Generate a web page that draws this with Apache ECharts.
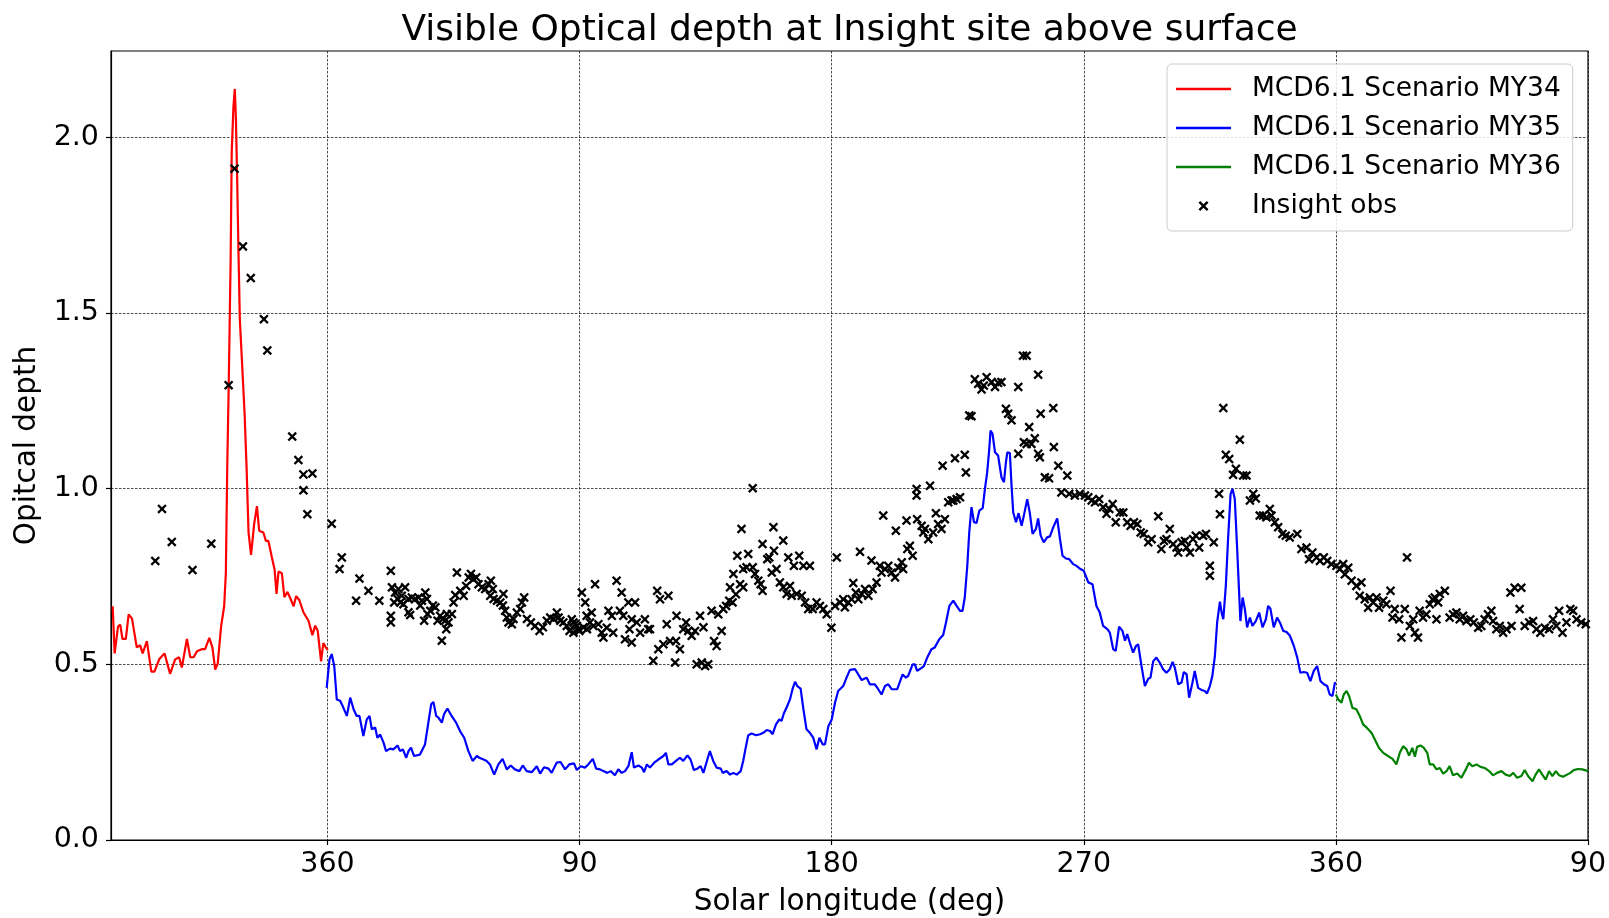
<!DOCTYPE html>
<html>
<head>
<meta charset="utf-8">
<title>Visible Optical depth at Insight site above surface</title>
<script src="https://cdn.jsdelivr.net/npm/echarts@6/dist/echarts.min.js"></script>
<style>
  html, body { margin: 0; padding: 0; background: #fff; }
  #chart { width: 1609px; height: 918px; }
</style>
</head>
<body>
<div id="chart"></div>
<script>
// Solar longitude is cumulative across Mars years (360 = end of MY34, 720 = end of MY35)
const xTicks = [360, 450, 540, 630, 720, 810];
const yTicks = [0, 0.5, 1.0, 1.5, 2.0];

// MCD6.1 scenario MY34 column optical depth [Ls, tau]
const my34 = [
  [283.3,0.665],[284.0,0.531],[285.2,0.607],[286.0,0.613],[286.8,0.572],[288.0,0.572],[289.0,0.642],[290.2,0.630],
  [291.9,0.548],[293.1,0.554],[294.0,0.531],[295.5,0.566],[297.1,0.479],[298.2,0.479],[299.9,0.514],[301.8,0.531],
  [303.8,0.473],[305.6,0.514],[307.0,0.520],[308.0,0.491],[309.8,0.572],[311.0,0.520],[312.2,0.520],[313.4,0.537],
  [315.1,0.543],[316.3,0.543],[317.8,0.575],[318.9,0.548],[319.9,0.485],[320.8,0.502],[322.0,0.607],[323.1,0.665],
  [323.7,0.759],[324.2,1.061],[324.7,1.282],[325.4,1.643],[325.8,1.957],[326.4,2.085],[326.9,2.137],[327.3,2.050],
  [327.7,1.899],[328.2,1.678],[328.7,1.479],[329.6,1.340],[330.4,1.212],[331.1,1.061],[331.8,0.875],[332.7,0.811],
  [333.8,0.899],[334.8,0.950],[335.6,0.880],[337.1,0.875],[338.0,0.851],[338.9,0.851],[340.1,0.805],[341.1,0.770],
  [341.8,0.700],[342.5,0.764],[343.7,0.759],[344.6,0.691],[345.7,0.706],[346.7,0.688],[347.9,0.665],[348.8,0.694],
  [349.9,0.683],[351.4,0.648],[353.2,0.624],[354.6,0.583],[355.6,0.610],[356.5,0.595],[357.7,0.508],[358.5,0.560],
  [359.4,0.548],[360.1,0.540]
];

// MCD6.1 scenario MY35
const my35 = [
  [359.7,0.433],[360.7,0.514],[361.5,0.529],[362.4,0.495],[363.3,0.400],[364.5,0.396],[365.4,0.381],[366.9,0.353],
  [368.1,0.405],[369.3,0.372],[370.4,0.353],[371.4,0.353],[372.8,0.296],[374.0,0.343],[375.0,0.353],[375.8,0.315],
  [377.0,0.320],[377.8,0.291],[378.8,0.300],[380.0,0.277],[380.9,0.253],[382.3,0.260],[383.5,0.258],[385.0,0.269],
  [385.9,0.253],[386.9,0.258],[388.1,0.234],[388.9,0.253],[389.8,0.263],[390.9,0.239],[393.0,0.243],[394.8,0.272],
  [396.0,0.334],[397.0,0.386],[397.8,0.393],[398.8,0.353],[399.6,0.348],[400.8,0.334],[401.6,0.358],[402.8,0.374],
  [404.3,0.353],[405.9,0.334],[407.3,0.310],[408.8,0.291],[410.3,0.253],[411.8,0.225],[413.3,0.239],[414.2,0.234],
  [415.7,0.229],[416.8,0.225],[418.0,0.215],[419.5,0.186],[421.0,0.215],[422.5,0.231],[424.0,0.201],[425.4,0.212],
  [426.9,0.201],[428.5,0.196],[429.7,0.212],[431.1,0.196],[432.9,0.193],[434.7,0.210],[435.9,0.189],[437.3,0.207],
  [438.9,0.203],[440.0,0.191],[441.8,0.220],[443.2,0.222],[444.8,0.201],[446.3,0.215],
  [448.0,0.218],[449.0,0.199],[450.4,0.210],[451.9,0.206],[453.1,0.215],[454.7,0.231],[455.9,0.203],[457.3,0.201],
  [458.5,0.196],[459.9,0.191],[461.1,0.196],[462.6,0.184],[463.8,0.201],[465.0,0.191],[466.2,0.196],[467.4,0.210],
  [468.6,0.250],[469.4,0.206],[471.0,0.212],[472.2,0.206],[473.0,0.193],[474.0,0.215],[475.1,0.206],[476.6,0.220],
  [478.1,0.229],[479.9,0.239],[480.8,0.248],[481.7,0.215],[482.9,0.215],[484.4,0.225],[485.8,0.234],[487.0,0.225],
  [488.5,0.241],[489.6,0.229],[490.8,0.199],[492.0,0.203],[493.2,0.210],[494.2,0.191],[495.6,0.229],[496.5,0.253],
  [497.7,0.225],[498.9,0.206],[500.4,0.203],[501.1,0.191],[502.5,0.196],[503.7,0.186],[504.9,0.191],[506.1,0.186],
  [507.5,0.196],[508.4,0.225],[509.4,0.267],[510.2,0.298],[511.4,0.303],[513.0,0.298],[514.4,0.301],[515.6,0.305],
  [516.8,0.313],[518.0,0.310],[518.9,0.301],[520.1,0.329],[521.3,0.343],[522.1,0.339],[522.9,0.360],[523.9,0.377],
  [525.1,0.400],[526.0,0.429],[526.9,0.450],[527.7,0.438],[528.9,0.431],[529.9,0.372],[531.0,0.315],[532.2,0.305],
  [533.4,0.291],[534.6,0.258],[535.6,0.291],
  [536.8,0.272],[537.6,0.272],[538.8,0.324],[540.0,0.343],[541.2,0.391],[542.3,0.424],[544.1,0.438],[545.3,0.462],
  [546.5,0.484],[548.3,0.486],[549.5,0.471],[550.7,0.455],[552.5,0.462],[553.6,0.443],[555.4,0.443],[556.6,0.429],
  [557.8,0.414],[559.0,0.438],[560.2,0.443],[561.4,0.429],[563.4,0.429],[565.3,0.471],[566.5,0.462],[567.3,0.467],
  [568.9,0.500],[569.7,0.500],[570.5,0.481],[572.1,0.490],[572.9,0.495],[574.1,0.519],[575.6,0.543],[576.8,0.548],
  [578.4,0.571],[579.8,0.583],[580.8,0.619],[582.0,0.666],[583.4,0.681],[584.6,0.666],[585.8,0.652],[586.7,0.652],
  [587.5,0.690],[588.4,0.780],[589.1,0.875],[589.9,0.947],[590.8,0.904],[591.7,0.902],[592.7,0.937],[593.9,0.944],
  [594.7,0.999],[595.5,1.046],[596.2,1.108],[596.7,1.165],[597.4,1.156],[598.3,1.103],[599.4,1.094],[600.6,1.032],
  [601.5,1.018],[602.2,1.075],[602.7,1.103],[603.6,1.101],[604.2,1.008],[604.8,0.932],[605.8,0.904],[606.7,0.930],
  [607.8,0.894],[608.6,0.923],[609.8,0.970],[610.7,0.932],[611.7,0.871],[612.9,0.885],[613.7,0.915],[614.6,0.866],
  [615.7,0.847],[616.9,0.861],[617.9,0.864],[619.1,0.890],[620.5,0.915],[621.5,0.856],[622.4,0.809],[623.6,0.801],
  [624.8,0.799],
  [626.2,0.785],[627.4,0.780],[628.8,0.771],[630.0,0.766],[631.6,0.733],[633.1,0.728],[634.5,0.666],[635.7,0.647],
  [636.9,0.609],[638.4,0.600],[639.3,0.590],[640.5,0.543],[641.4,0.538],[642.6,0.607],[643.8,0.595],[644.7,0.567],
  [645.5,0.586],[646.4,0.562],[647.6,0.533],[648.6,0.552],[649.4,0.557],[650.6,0.495],[651.8,0.438],[653.0,0.459],
  [653.8,0.462],[654.8,0.509],[655.9,0.519],[657.1,0.505],[658.3,0.486],[659.5,0.476],[660.7,0.486],[661.7,0.507],
  [662.5,0.490],[663.7,0.443],[664.9,0.448],[665.7,0.478],[666.7,0.472],[667.6,0.405],[668.8,0.448],[669.6,0.481],
  [670.8,0.433],[672.0,0.427],[673.2,0.424],[674.0,0.417],[675.0,0.438],[675.9,0.467],[676.8,0.524],[677.6,0.619],
  [678.6,0.678],[679.2,0.647],[679.8,0.628],[680.7,0.723],[681.5,0.856],[682.4,0.985],[683.1,0.999],[683.9,0.970],
  [684.7,0.837],[685.5,0.695],[685.9,0.623],[686.7,0.690],[687.5,0.657],[688.3,0.605],[689.3,0.633],[690.2,0.609],
  [691.4,0.623],[692.6,0.647],[693.8,0.605],[695.0,0.628],[695.8,0.666],[696.6,0.659],[697.8,0.605],[699.0,0.633],
  [700.0,0.619],[701.2,0.595],[702.4,0.592],[703.6,0.581],[705.0,0.552],[706.2,0.519],[707.3,0.476],[708.5,0.478],
  [709.7,0.476],[710.9,0.452],[712.1,0.481],[713.3,0.495],[714.5,0.452],[715.7,0.443],[716.9,0.438],[717.8,0.414],
  [718.8,0.410],[719.6,0.446],[720.0,0.448]
];

// MCD6.1 scenario MY36
const my36 = [
  [720.0,0.414],[720.8,0.400],[722.0,0.391],[722.8,0.414],[723.8,0.424],[724.7,0.410],[725.9,0.376],[727.3,0.372],
  [728.5,0.353],[729.7,0.329],[731.1,0.319],[732.7,0.305],[733.9,0.286],[735.4,0.262],[736.9,0.248],[738.6,0.239],
  [740.2,0.231],[741.6,0.215],[742.8,0.248],[744.0,0.267],[745.2,0.258],[746.1,0.240],[747.3,0.262],[748.2,0.237],
  [749.0,0.265],[750.2,0.269],[751.4,0.262],[752.6,0.248],[753.5,0.215],[754.7,0.215],[755.9,0.201],[757.1,0.205],
  [758.3,0.189],[759.5,0.196],[760.6,0.210],[761.8,0.184],[763.3,0.189],[764.8,0.177],[766.4,0.201],[767.5,0.220],
  [768.7,0.210],[770.2,0.215],[771.6,0.208],[773.1,0.205],[774.7,0.196],[776.1,0.184],[777.5,0.191],[779.1,0.196],
  [780.6,0.186],[782.1,0.182],[783.3,0.191],[784.7,0.177],[786.2,0.182],[787.4,0.199],[788.6,0.182],[790.2,0.167],
  [791.3,0.186],[792.5,0.201],[793.7,0.186],[794.9,0.172],[796.1,0.196],[797.3,0.182],[798.5,0.196],[799.7,0.184],
  [801.1,0.180],[802.5,0.186],[803.7,0.191],[804.9,0.199],[806.4,0.202],[808.0,0.201],[810.0,0.196]
];

// InSight camera optical depth retrievals [Ls, tau]
const insightObs = [
  [298.5,0.794],[300.9,0.942],[304.4,0.848],[311.8,0.768],[318.5,0.843],[324.7,1.294],[326.8,1.910],[329.8,1.689],
  [332.6,1.599],[337.3,1.482],[338.5,1.393],[347.4,1.148],[349.6,1.081],[351.4,1.040],[354.6,1.043],[351.4,0.995],
  [352.8,0.927],[361.5,0.900],
  [365.1,0.804],[364.3,0.771],[371.4,0.744],[370.2,0.681],[374.6,0.709],[378.5,0.681],[382.6,0.766],
  [383.0,0.719],[384.1,0.704],[385.3,0.714],[386.5,0.695],[387.7,0.719],[385.0,0.686],[383.8,0.676],[386.0,0.676],
  [387.1,0.671],[388.9,0.686],[390.1,0.690],[391.3,0.686],[392.5,0.690],[393.7,0.681],[394.9,0.704],[395.5,0.686],
  [382.6,0.638],[382.6,0.619],[388.9,0.648],[389.5,0.640],[393.1,0.667],[394.5,0.624],[395.7,0.643],[396.7,0.652],
  [397.6,0.667],[398.5,0.662],[399.3,0.624],[400.2,0.638],[401.2,0.629],[402.0,0.624],[402.6,0.643],[400.8,0.567],
  [402.4,0.600],[403.2,0.619],[404.4,0.643],[405.0,0.676],[405.6,0.697],[406.2,0.761],[407.4,0.709],[408.6,0.695],
  [409.5,0.723],[410.4,0.747],[411.2,0.757],[412.1,0.742],[413.1,0.747],[413.9,0.728],[415.1,0.719],[416.3,0.714],
  [417.5,0.728],[418.3,0.738],[419.0,0.714],[418.1,0.695],[419.3,0.686],[420.5,0.681],[421.7,0.676],[422.8,0.700],
  [422.6,0.667],[423.4,0.652],[424.0,0.633],[424.6,0.619],[425.8,0.614],[426.4,0.629],[427.6,0.647],[428.8,0.657],
  [429.4,0.676],[430.2,0.690],[431.2,0.629],[432.6,0.619],[434.1,0.609],[435.7,0.595],[436.9,0.605],[438.3,0.624],
  [439.5,0.633],[440.7,0.629],[441.9,0.647],[442.5,0.633],[443.1,0.624],[444.2,0.619],[445.4,0.609],[446.4,0.595],
  [447.8,0.619],[449.0,0.609],[449.9,0.595],[451.4,0.605],[452.6,0.600],[450.8,0.704],[452.0,0.676],
  [447.2,0.628],[448.4,0.614],[449.6,0.600],[447.8,0.590],
  [452.5,0.638],[453.7,0.619],[454.3,0.647],[455.5,0.728],[454.9,0.609],[456.7,0.614],[457.9,0.590],[458.5,0.576],
  [459.7,0.604],[460.3,0.652],[461.5,0.638],[462.0,0.590],[463.2,0.738],[464.4,0.652],[465.0,0.704],[465.6,0.638],
  [466.2,0.571],[467.4,0.676],[467.8,0.600],[468.6,0.628],[468.6,0.562],[469.8,0.676],[470.4,0.619],[471.6,0.590],
  [473.3,0.628],[474.5,0.600],[475.1,0.600],
  [476.3,0.510],[477.7,0.709],[478.7,0.685],[478.1,0.543],[479.9,0.557],[481.1,0.614],[481.7,0.695],[482.3,0.566],
  [484.1,0.505],[484.4,0.566],[484.6,0.638],[485.8,0.543],[487.0,0.600],[488.0,0.619],[488.8,0.595],[490.0,0.581],
  [491.2,0.595],[491.8,0.500],[493.0,0.638],[493.6,0.505],[494.2,0.605],[494.8,0.495],[495.9,0.500],[497.1,0.652],
  [498.0,0.566],[498.9,0.552],[499.5,0.642],[500.7,0.595],[501.3,0.657],[502.3,0.666],[503.4,0.681],[503.7,0.719],
  [504.6,0.676],[504.9,0.757],[505.8,0.699],[506.3,0.809],[507.3,0.728],[507.8,0.885],[508.4,0.771],[508.4,0.719],
  [510.2,0.814],[509.6,0.776],[511.8,1.001],[511.8,0.776],[512.6,0.757],[513.8,0.738],[514.6,0.728],[515.3,0.709],
  [515.3,0.842],[517.0,0.799],[517.7,0.804],[518.6,0.761],[519.2,0.890],[519.4,0.823],[520.3,0.771],[521.5,0.733],
  [522.7,0.852],[522.7,0.719],[523.9,0.700],[524.5,0.804],[525.1,0.723],[525.7,0.695],[526.5,0.780],[527.5,0.700],
  [528.4,0.809],[529.3,0.695],[529.9,0.780],[530.5,0.676],[531.6,0.657],[532.2,0.780],[533.2,0.657],[534.6,0.676],
  [535.8,0.666],[537.0,0.657],[538.2,0.642],[539.9,0.604],[541.2,0.666],[541.8,0.804],[543.0,0.676],
  [544.1,0.685],[544.7,0.662],[545.9,0.676],[547.1,0.685],[547.7,0.731],[548.6,0.704],[549.5,0.685],[550.1,0.820],
  [550.7,0.700],[551.9,0.714],[553.1,0.695],[554.2,0.795],[554.6,0.714],[556.0,0.733],[557.2,0.780],[557.8,0.761],
  [558.4,0.923],[559.0,0.771],[560.2,0.780],[561.4,0.761],[562.6,0.747],[562.9,0.880],[563.8,0.775],[565.0,0.790],
  [565.5,0.771],[566.7,0.909],[567.0,0.828],[567.9,0.837],[568.9,0.809],[570.3,0.999],[570.3,0.980],[570.5,0.913],
  [572.1,0.894],[572.7,0.875],[573.3,0.885],[574.5,0.856],[575.1,1.008],[576.2,0.875],[577.2,0.930],[578.0,0.899],
  [579.2,0.885],[579.6,1.065],[580.4,0.913],[581.6,0.961],[582.8,0.966],[583.4,0.966],[584.0,1.086],[584.6,0.970],
  [585.8,0.975],[587.5,1.096],[587.9,1.046],[589.1,1.208],[589.9,1.206],[591.1,1.311],[592.3,1.298],[593.5,1.282],
  [594.3,1.293],[595.3,1.317],[597.1,1.303],[598.3,1.289],[599.4,1.301],[600.6,1.303],[602.2,1.227],[603.0,1.213],
  [604.2,1.194],[606.6,1.289],[606.6,1.099],[608.3,1.378],[609.6,1.378],[608.6,1.132],[609.6,1.127],[610.5,1.175],
  [611.3,1.127],[612.5,1.143],[613.7,1.324],[613.7,1.099],[614.3,1.089],[614.6,1.213],[616.1,1.032],[617.6,1.029],
  [619.1,1.229],[619.3,1.118],[620.9,1.065],[622.0,0.989],[624.1,1.037],[624.8,0.985],
  [626.8,0.980],[628.6,0.985],[630.4,0.980],[631.6,0.975],[632.8,0.966],[634.0,0.961],[635.5,0.970],[636.9,0.947],
  [638.1,0.928],[639.1,0.942],[640.3,0.956],[641.4,0.904],[642.9,0.932],[644.1,0.932],[645.5,0.904],[646.7,0.894],
  [647.9,0.904],[649.1,0.899],[650.3,0.875],[651.4,0.871],[653.0,0.847],[654.2,0.856],[656.6,0.921],[657.7,0.828],
  [658.6,0.851],[659.5,0.856],[660.7,0.885],[661.9,0.842],[663.1,0.832],[663.7,0.818],[664.9,0.847],[666.1,0.851],
  [666.7,0.832],[667.9,0.818],[669.0,0.856],[670.0,0.866],[671.2,0.832],[672.6,0.866],[673.6,0.871],[675.0,0.780],
  [675.0,0.752],[676.4,0.847],[678.3,0.985],[678.6,0.927],[679.8,1.229],[680.7,1.096],[681.9,1.084],[683.3,1.039],
  [684.3,1.056],[685.7,1.139],[686.9,1.037],[688.1,1.037],[689.3,0.966],[690.5,0.985],[691.4,0.972],[692.8,0.923],
  [694.0,0.923],[695.2,0.918],[696.4,0.942],[697.0,0.923],[698.2,0.904],[699.4,0.890],[700.9,0.871],[702.1,0.866],
  [703.5,0.861],[706.2,0.871],[707.7,0.828],[709.5,0.832],[710.4,0.799],[711.6,0.818],[713.1,0.804],[714.3,0.794],
  [715.7,0.804],[716.9,0.794],[718.4,0.785],
  [720.2,0.780],[721.4,0.771],[722.6,0.785],[723.2,0.756],[724.4,0.775],[725.6,0.738],[727.3,0.723],[729.1,0.733],
  [728.5,0.695],[730.3,0.685],[731.5,0.661],[732.1,0.690],[733.3,0.676],[734.5,0.690],[735.4,0.661],[736.9,0.681],
  [738.0,0.671],[739.5,0.709],[740.2,0.633],[741.0,0.657],[742.6,0.628],[743.4,0.576],[744.6,0.657],[745.4,0.804],
  [746.4,0.609],[747.6,0.628],[748.2,0.590],[749.3,0.576],[749.9,0.652],[751.1,0.633],[752.3,0.642],[753.5,0.671],
  [754.5,0.685],[755.3,0.690],[756.5,0.676],[757.1,0.700],[758.9,0.709],[755.9,0.628],[760.6,0.633],[761.8,0.642],
  [763.0,0.647],[764.2,0.628],[765.4,0.638],[766.6,0.623],[768.0,0.628],[769.2,0.619],[770.8,0.604],[771.9,0.609],
  [773.1,0.628],[774.3,0.642],[775.5,0.652],[776.1,0.623],[777.3,0.600],[778.5,0.609],[779.7,0.590],[780.9,0.600],
  [782.7,0.609],[782.3,0.704],[783.8,0.718],[786.2,0.718],[785.6,0.657],[787.4,0.609],[789.0,0.619],[790.4,0.623],
  [791.6,0.600],[793.0,0.590],[794.6,0.604],[796.1,0.600],[797.5,0.628],[798.7,0.609],[799.7,0.652],[800.9,0.590],
  [802.3,0.619],[803.7,0.657],[804.7,0.652],[805.9,0.628],[807.6,0.619],[809.2,0.614]
];

const FONT = 'DejaVu Sans';
// "x" marker drawn as a filled outline
const crossMarker = 'path://M0,1.7L1.7,0L5,3.3L8.3,0L10,1.7L6.7,5L10,8.3L8.3,10L5,6.7L1.7,10L0,8.3L3.3,5Z';
// plain line sample for the model runs in the legend
const lineIcon = 'path://M0,0H55V2.3H0Z';

const chart = echarts.init(document.getElementById('chart'), null, { renderer: 'canvas' });

const gridLine = { show: true, lineStyle: { color: '#000', width: 0.7, type: [2.5, 1.5] } };

chart.setOption({
  animation: false,
  backgroundColor: '#ffffff',
  textStyle: { fontFamily: FONT },
  grid: {
    left: 111, right: 21, top: 51, bottom: 78,
    outerBoundsMode: 'none', containLabel: false,
    show: true, borderColor: '#000', borderWidth: 1.2, backgroundColor: 'transparent'
  },
  graphic: [{
    type: 'text', x: 849.6, y: 31, z: 10,
    style: {
      text: 'Visible Optical depth at Insight site above surface',
      fontFamily: FONT, fontSize: 36, fill: '#000',
      align: 'center', verticalAlign: 'middle'
    }
  }],
  xAxis: {
    type: 'value', min: 282.7, max: 810,
    name: 'Solar longitude (deg)', nameLocation: 'middle', nameGap: 47,
    nameTextStyle: { fontFamily: FONT, fontSize: 29.5, color: '#000' },
    axisLine: { show: true, onZero: false, lineStyle: { color: '#000', width: 1.2 } },
    axisTick: { show: true, length: 5, customValues: xTicks, lineStyle: { color: '#000', width: 1.2 } },
    axisLabel: {
      customValues: xTicks, margin: 10, fontFamily: FONT, fontSize: 28.5, color: '#000',
      formatter: function (v) { const m = Math.round(v) % 360; return m === 0 ? '360' : String(m); }
    },
    splitLine: gridLine
  },
  yAxis: {
    type: 'value', min: 0, max: 2.245,
    name: 'Opitcal depth', nameLocation: 'middle', nameGap: 58,
    nameTextStyle: { fontFamily: FONT, fontSize: 29.5, color: '#000' },
    axisLine: { show: true, onZero: false, lineStyle: { color: '#000', width: 1.2 } },
    axisTick: { show: true, length: 5, customValues: yTicks, lineStyle: { color: '#000', width: 1.2 } },
    axisLabel: {
      customValues: yTicks, margin: 12, fontFamily: FONT, fontSize: 28.5, color: '#000',
      formatter: function (v) { return v.toFixed(1); }
    },
    splitLine: gridLine
  },
  legend: {
    orient: 'vertical', left: 1167, top: 64,
    itemWidth: 55, itemHeight: 10, itemGap: 9,
    padding: [10, 12, 10, 9],
    backgroundColor: 'rgba(255,255,255,0.85)', borderColor: '#cccccc', borderWidth: 1, borderRadius: 5,
    textStyle: { fontFamily: FONT, fontSize: 26.5, color: '#000', lineHeight: 30, padding: [0, 0, 0, 16] },
    data: [
      { name: 'MCD6.1 Scenario MY34', icon: lineIcon },
      { name: 'MCD6.1 Scenario MY35', icon: lineIcon },
      { name: 'MCD6.1 Scenario MY36', icon: lineIcon },
      { name: 'Insight obs' }
    ]
  },
  series: [
    {
      name: 'MCD6.1 Scenario MY34', type: 'line', data: my34, symbol: 'none', showSymbol: false,
      lineStyle: { color: '#ff0000', width: 2.2 }, itemStyle: { color: '#ff0000' }, z: 2
    },
    {
      name: 'MCD6.1 Scenario MY35', type: 'line', data: my35, symbol: 'none', showSymbol: false,
      lineStyle: { color: '#0000ff', width: 2.2 }, itemStyle: { color: '#0000ff' }, z: 2
    },
    {
      name: 'MCD6.1 Scenario MY36', type: 'line', data: my36, symbol: 'none', showSymbol: false,
      lineStyle: { color: '#008000', width: 2.2 }, itemStyle: { color: '#008000' }, z: 2
    },
    {
      name: 'Insight obs', type: 'scatter', data: insightObs,
      symbol: crossMarker, symbolSize: 9.5, itemStyle: { color: '#000', opacity: 1 }, z: 3
    }
  ]
});
</script>
</body>
</html>
